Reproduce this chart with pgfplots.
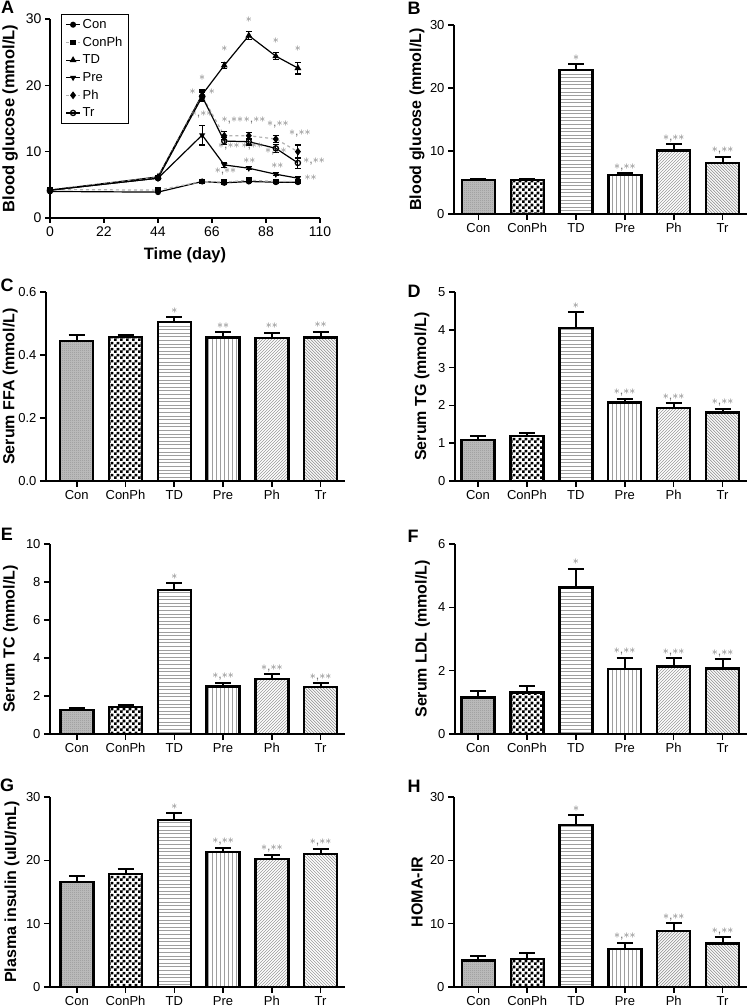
\documentclass[border=0pt]{standalone}
\usepackage{fontspec}
\setmainfont{Liberation Sans}
\usepackage{pgfplots}
\pgfplotsset{compat=1.18}
\usetikzlibrary{patterns}

\pgfdeclarepatternformonly{finecheck}{\pgfpointorigin}{\pgfqpoint{2pt}{2pt}}{\pgfqpoint{2pt}{2pt}}{%
 \pgfpathrectangle{\pgfpointorigin}{\pgfqpoint{1pt}{1pt}}%
 \pgfpathrectangle{\pgfqpoint{1pt}{1pt}}{\pgfqpoint{1pt}{1pt}}\pgfusepath{fill}}
\pgfdeclarepatternformonly{bigcheck}{\pgfpointorigin}{\pgfqpoint{6pt}{6pt}}{\pgfqpoint{6pt}{6pt}}{%
 \pgfpathrectangle{\pgfpointorigin}{\pgfqpoint{3pt}{3pt}}%
 \pgfpathrectangle{\pgfqpoint{3pt}{3pt}}{\pgfqpoint{3pt}{3pt}}\pgfusepath{fill}}
\pgfdeclarepatternformonly{hl}{\pgfpoint{-1pt}{-1pt}}{\pgfpoint{100pt}{2pt}}{\pgfpoint{100pt}{3.6pt}}{%
 \pgfsetlinewidth{0.9pt}\pgfpathmoveto{\pgfqpoint{0pt}{0.5pt}}\pgfpathlineto{\pgfqpoint{100pt}{0.5pt}}\pgfusepath{stroke}}
\pgfdeclarepatternformonly{vl}{\pgfpoint{-1pt}{-1pt}}{\pgfpoint{2pt}{100pt}}{\pgfpoint{4pt}{100pt}}{%
 \pgfsetlinewidth{0.9pt}\pgfpathmoveto{\pgfqpoint{0.5pt}{0pt}}\pgfpathlineto{\pgfqpoint{0.5pt}{100pt}}\pgfusepath{stroke}}
\pgfdeclarepatternformonly{ne}{\pgfqpoint{-1pt}{-1pt}}{\pgfqpoint{4pt}{4pt}}{\pgfqpoint{3pt}{3pt}}{%
 \pgfsetlinewidth{0.7pt}\pgfpathmoveto{\pgfqpoint{0pt}{0pt}}\pgfpathlineto{\pgfqpoint{3.1pt}{3.1pt}}\pgfusepath{stroke}}
\pgfdeclarepatternformonly{nw}{\pgfqpoint{-1pt}{-1pt}}{\pgfqpoint{4pt}{4pt}}{\pgfqpoint{3pt}{3pt}}{%
 \pgfsetlinewidth{0.7pt}\pgfpathmoveto{\pgfqpoint{0pt}{3pt}}\pgfpathlineto{\pgfqpoint{3.1pt}{-0.1pt}}\pgfusepath{stroke}}

\newcommand{\astA}{$\ast$}
\newcommand{\astB}{$\ast\ast$}
\newcommand{\astC}{$\ast$,$\ast\ast$}
\tikzset{ann/.style={anchor=base, inner sep=0pt, text=black!55, font=\fontsize{12.5}{12.5}\selectfont, yshift=4pt}}
\pgfplotsset{
 bb/.style={ybar, bar width=33pt, bar shift=0pt, draw=black, line width=2.4pt,
   /pgfplots/error bars/y dir=plus, /pgfplots/error bars/y explicit,
   /pgfplots/error bars/error bar style={line width=2pt, black},
   /pgfplots/error bars/error mark options={rotate=90, line width=2pt, black, mark size=8pt}},
 b1/.style={bb, preaction={fill=gray!50}, pattern=finecheck, pattern color=gray!85},
 b2/.style={bb, pattern=bigcheck, pattern color=black},
 b3/.style={bb, pattern=hl, pattern color=gray!75},
 b4/.style={bb, pattern=vl, pattern color=gray!75},
 b5/.style={bb, pattern=ne, pattern color=gray!80},
 b6/.style={bb, pattern=nw, pattern color=gray!80},
 barax/.style={scale only axis, anchor=south west, ymin=0, xmax=5.5, clip=false,
   axis x line*=bottom, axis y line*=left, axis line style={line width=2pt, -},
   tick align=outside, major tick length=6pt, tick style={line width=1.6pt, black},
   xtick={0,...,5}, xticklabels={Con,ConPh,TD,Pre,Ph,Tr},
   ticklabel style={font=\fontsize{13}{15}\selectfont},
   ylabel style={font=\bfseries\fontsize{16}{19}\selectfont, anchor=center},
   /pgf/number format/assume math mode=true},
 lp/.style={line width=1.2pt, mark size=2.4pt,
   /pgfplots/error bars/y dir=both, /pgfplots/error bars/y explicit,
   /pgfplots/error bars/error bar style={line width=1.1pt, black, solid},
   /pgfplots/error bars/error mark options={rotate=90, line width=1.1pt, black, mark size=3pt, solid}},
}
\newcommand{\plab}[3]{\node[font=\bfseries\fontsize{18}{18}\selectfont, inner sep=0pt] at (#1pt,#2pt) {#3};}

\begin{document}
\begin{tikzpicture}
\useasboundingbox (0pt,0pt) rectangle (749pt,1007pt);

% ---------------- A ----------------
\begin{axis}[scale only axis, anchor=south west, at={(50pt,789pt)}, width=270pt, height=199pt,
  xmin=0, xmax=110, ymin=0, ymax=30, xtick={0,22,44,66,88,110}, ytick={0,10,20,30},
  clip=false, axis x line*=bottom, axis y line*=left, axis line style={line width=1.5pt,-},
  tick align=outside, major tick length=5pt, tick style={line width=1.3pt,black},
  ticklabel style={font=\fontsize{14}{16}\selectfont},
  /pgf/number format/assume math mode=true,
  xlabel={Time (day)}, ylabel={Blood glucose (mmol/L)},
  xlabel style={font=\bfseries\fontsize{16.5}{19}\selectfont, at={(axis description cs:0.5,0)}, anchor=center, yshift=-37pt},
  ylabel style={font=\bfseries\fontsize{16.5}{19}\selectfont, at={(axis description cs:-0.148,0.5)}, anchor=center},
  legend style={at={(axis description cs:0.041,1.025)}, anchor=north west, draw=black, line width=0.8pt,
     font=\fontsize{13}{15}\selectfont, row sep=3pt, inner xsep=4pt, inner ysep=3pt, cells={anchor=west}},
  legend image code/.code={\draw[mark repeat=2, mark phase=2, #1] plot coordinates {(0pt,0pt) (7pt,0pt) (14pt,0pt)};}]
\addplot[lp, black, mark=*] coordinates {(0,4.0) (44,3.9) (62,5.5) (71,5.3) (81,5.5) (92,5.4) (101,5.4)};
\addplot[lp, gray!60, dashed, mark=square*, mark size=2.2pt, mark options={solid, black}] coordinates {(0,4.3) (44,4.2) (62,5.5) (71,5.4) (81,5.7) (92,5.5) (101,5.5)};
\addplot[lp, black, mark=triangle*, mark size=2.8pt] coordinates {(0,4.2) +- (0,0) (44,6.2) +- (0,0.2) (62,18.6) +- (0,0.7) (71,23.0) +- (0,0.5) (81,27.5) +- (0,0.6) (92,24.4) +- (0,0.5) (101,22.6) +- (0,0.9)};
\addplot[lp, black, mark=triangle*, mark size=2.4pt, mark options={rotate=180}] coordinates {(0,4.2) +- (0,0) (44,6.0) +- (0,0.2) (62,12.5) +- (0,1.5) (71,8.0) +- (0,0.4) (81,7.5) +- (0,0.2) (92,6.6) +- (0,0.2) (101,6.0) +- (0,0.3)};
\addplot[lp, gray!60, dashed, mark=diamond*, mark size=3pt, mark options={solid, black}] coordinates {(0,4.3) +- (0,0) (44,6.1) +- (0,0.2) (62,18.4) +- (0,0.7) (71,12.4) +- (0,0.6) (81,12.4) +- (0,0.5) (92,11.9) +- (0,0.5) (101,10.0) +- (0,1.0)};
\addplot[lp, black, mark=o, mark size=2.6pt, mark options={line width=1.3pt}] coordinates {(0,4.2) +- (0,0) (44,6.0) +- (0,0.2) (62,18.3) +- (0,0.7) (71,11.6) +- (0,0.5) (81,11.5) +- (0,0.5) (92,10.5) +- (0,0.6) (101,8.3) +- (0,0.8)};
\legend{Con,ConPh,TD,Pre,Ph,Tr}
\begin{scope}[every node/.style={ann, yshift=-3pt}]
\node at (axis cs:62,20.6) {\astA};
\node at (axis cs:71,24.9) {\astA};
\node at (axis cs:81,29.3) {\astA};
\node at (axis cs:92,26.1) {\astA};
\node at (axis cs:101,25.0) {\astA};
\node at (axis cs:58.1,18.5) {\astA};
\node at (axis cs:65.9,18.5) {\astA};
\node at (axis cs:61.8,15.1) {\astC};
\node at (axis cs:74.3,14.2) {\astC};
\node at (axis cs:83.4,14.2) {\astC};
\node at (axis cs:92.8,13.6) {\astC};
\node at (axis cs:101.8,12.3) {\astC};
\node at (axis cs:72.9,10.3) {\astC};
\node at (axis cs:82.4,10.3) {\astC};
\node at (axis cs:81.2,8.0) {\astB};
\node at (axis cs:92,9.6) {\astC};
\node at (axis cs:92.6,7.3) {\astB};
\node at (axis cs:107.6,8.0) {\astC};
\node at (axis cs:71.5,6.5) {\astC};
\node at (axis cs:106.2,5.5) {\astB};
\end{scope}
\end{axis}
\plab{7.5}{999.5}{A}

% ---------------- B ----------------
\begin{axis}[barax, at={(454pt,793pt)}, width=293pt, height=189pt, xmin=-0.5, ymax=30, ytick={0,10,20,30},
  ylabel={Blood glucose (mmol/L)}, ylabel style={at={(axis description cs:-0.126,0.5)}}]
\addplot[b1] coordinates {(0,5.44) +- (0,0.16)};
\addplot[b2] coordinates {(1,5.44) +- (0,0.12)};
\addplot[b3] coordinates {(2,22.9) +- (0,0.9)};
\addplot[b4] coordinates {(3,6.2) +- (0,0.25)};
\addplot[b5] coordinates {(4,10.1) +- (0,1.0)};
\addplot[b6] coordinates {(5,8.1) +- (0,1.0)};
\node[ann] at (axis cs:2,23.8) {\astA};
\node[ann] at (axis cs:3,6.45) {\astC};
\node[ann] at (axis cs:4,11.1) {\astC};
\node[ann] at (axis cs:5,9.1) {\astC};
\end{axis}
\plab{414}{999}{B}

% ---------------- C ----------------
\begin{axis}[barax, at={(46pt,526pt)}, width=299pt, height=189pt, xmin=-0.63, ymax=0.6, ytick={0,0.2,0.4,0.6},
  yticklabel style={/pgf/number format/.cd, fixed, fixed zerofill, precision=1},
  ylabel={Serum FFA (mmol/L)}, ylabel style={at={(axis description cs:-0.12,0.5)}}]
\addplot[b1] coordinates {(0,0.445) +- (0,0.019)};
\addplot[b2] coordinates {(1,0.457) +- (0,0.006)};
\addplot[b3] coordinates {(2,0.504) +- (0,0.016)};
\addplot[b4] coordinates {(3,0.456) +- (0,0.016)};
\addplot[b5] coordinates {(4,0.454) +- (0,0.016)};
\addplot[b6] coordinates {(5,0.456) +- (0,0.018)};
\node[ann] at (axis cs:2,0.520) {\astA};
\node[ann] at (axis cs:3,0.472) {\astB};
\node[ann] at (axis cs:4,0.470) {\astB};
\node[ann] at (axis cs:5,0.474) {\astB};
\end{axis}
\plab{7}{722}{C}

% ---------------- D ----------------
\begin{axis}[barax, at={(455pt,526pt)}, width=292pt, height=189pt, xmin=-0.47, ymax=5, ytick={0,1,2,3,4,5},
  ylabel={Serum TG (mmol/L)}, ylabel style={at={(axis description cs:-0.113,0.5)}}]
\addplot[b1] coordinates {(0,1.09) +- (0,0.11)};
\addplot[b2] coordinates {(1,1.19) +- (0,0.08)};
\addplot[b3] coordinates {(2,4.05) +- (0,0.42)};
\addplot[b4] coordinates {(3,2.08) +- (0,0.10)};
\addplot[b5] coordinates {(4,1.93) +- (0,0.13)};
\addplot[b6] coordinates {(5,1.81) +- (0,0.10)};
\node[ann] at (axis cs:2,4.47) {\astA};
\node[ann] at (axis cs:3,2.18) {\astC};
\node[ann] at (axis cs:4,2.06) {\astC};
\node[ann] at (axis cs:5,1.91) {\astC};
\end{axis}
\plab{414}{716}{D}

% ---------------- E ----------------
\begin{axis}[barax, at={(50pt,273pt)}, width=295pt, height=190pt, xmin=-0.55, ymax=10, ytick={0,2,4,6,8,10},
  ylabel={Serum TC (mmol/L)}, ylabel style={at={(axis description cs:-0.134,0.5)}}]
\addplot[b1] coordinates {(0,1.27) +- (0,0.08)};
\addplot[b2] coordinates {(1,1.41) +- (0,0.10)};
\addplot[b3] coordinates {(2,7.57) +- (0,0.37)};
\addplot[b4] coordinates {(3,2.50) +- (0,0.21)};
\addplot[b5] coordinates {(4,2.90) +- (0,0.25)};
\addplot[b6] coordinates {(5,2.46) +- (0,0.21)};
\node[ann] at (axis cs:2,7.94) {\astA};
\node[ann] at (axis cs:3,2.71) {\astC};
\node[ann] at (axis cs:4,3.15) {\astC};
\node[ann] at (axis cs:5,2.67) {\astC};
\end{axis}
\plab{7}{473}{E}

% ---------------- F ----------------
\begin{axis}[barax, at={(455pt,273pt)}, width=292pt, height=190pt, xmin=-0.47, ymax=6, ytick={0,2,4,6},
  ylabel={Serum LDL (mmol/L)}, ylabel style={at={(axis description cs:-0.111,0.5)}}]
\addplot[b1] coordinates {(0,1.15) +- (0,0.21)};
\addplot[b2] coordinates {(1,1.31) +- (0,0.21)};
\addplot[b3] coordinates {(2,4.63) +- (0,0.59)};
\addplot[b4] coordinates {(3,2.05) +- (0,0.36)};
\addplot[b5] coordinates {(4,2.13) +- (0,0.26)};
\addplot[b6] coordinates {(5,2.07) +- (0,0.29)};
\node[ann] at (axis cs:2,5.22) {\astA};
\node[ann] at (axis cs:3,2.41) {\astC};
\node[ann] at (axis cs:4,2.39) {\astC};
\node[ann] at (axis cs:5,2.36) {\astC};
\end{axis}
\plab{413}{471}{F}

% ---------------- G ----------------
\begin{axis}[barax, at={(50pt,20pt)}, width=295pt, height=190pt, xmin=-0.55, ymax=30, ytick={0,10,20,30},
  ylabel={Plasma insulin (uIU/mL)}, ylabel style={at={(axis description cs:-0.129,0.5)}}]
\addplot[b1] coordinates {(0,16.6) +- (0,1.0)};
\addplot[b2] coordinates {(1,17.8) +- (0,0.8)};
\addplot[b3] coordinates {(2,26.4) +- (0,1.0)};
\addplot[b4] coordinates {(3,21.3) +- (0,0.7)};
\addplot[b5] coordinates {(4,20.2) +- (0,0.7)};
\addplot[b6] coordinates {(5,21.0) +- (0,0.8)};
\node[ann] at (axis cs:2,27.4) {\astA};
\node[ann] at (axis cs:3,22.0) {\astC};
\node[ann] at (axis cs:4,20.9) {\astC};
\node[ann] at (axis cs:5,21.8) {\astC};
\end{axis}
\plab{7}{222}{G}

% ---------------- H ----------------
\begin{axis}[barax, at={(454pt,20pt)}, width=293pt, height=190pt, xmin=-0.5, ymax=30, ytick={0,10,20,30},
  ylabel={HOMA-IR}, ylabel style={at={(axis description cs:-0.126,0.5)}}]
\addplot[b1] coordinates {(0,4.17) +- (0,0.75)};
\addplot[b2] coordinates {(1,4.44) +- (0,0.85)};
\addplot[b3] coordinates {(2,25.6) +- (0,1.5)};
\addplot[b4] coordinates {(3,6.0) +- (0,1.0)};
\addplot[b5] coordinates {(4,8.87) +- (0,1.2)};
\addplot[b6] coordinates {(5,6.87) +- (0,0.95)};
\node[ann] at (axis cs:2,27.1) {\astA};
\node[ann] at (axis cs:3,7.0) {\astC};
\node[ann] at (axis cs:4,10.07) {\astC};
\node[ann] at (axis cs:5,7.82) {\astC};
\end{axis}
\plab{414}{221}{H}
\end{tikzpicture}
\end{document}
